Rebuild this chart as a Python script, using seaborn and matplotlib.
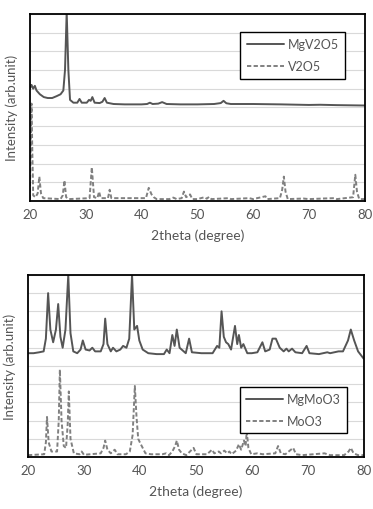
import numpy as np
import pandas as pd
import seaborn as sns
import matplotlib.pyplot as plt

# XRD patterns (2theta in degrees, relative intensity)
mgv2o5_x = [20.0, 20.3, 20.6, 20.9, 21.2, 21.8, 22.5, 23.2, 24.0, 24.8, 25.5, 26.0, 26.3, 26.6,
            26.9, 27.2, 27.8, 28.5, 28.9, 29.3, 30.2, 30.6, 30.9, 31.2, 31.6, 32.5, 33.0, 33.4,
            33.8, 35.0, 37.0, 40.0, 41.0, 41.5, 42.0, 43.0, 43.7, 44.5, 47.0, 50.0, 53.0, 54.2,
            54.7, 55.2, 56.0, 60.0, 65.0, 70.0, 72.0, 75.0, 80.0]
mgv2o5_y = [60, 62, 60, 61.5, 59, 57, 55.5, 55, 55, 56, 57, 59, 70, 101,
            70, 54, 52.5, 52.5, 54.5, 52.5, 52.5, 54, 53.5, 55.5, 52.5, 52.3, 53, 55,
            52.5, 51.8, 51.6, 51.6, 51.8, 52.5, 51.8, 52, 52.8, 51.8, 51.6, 51.6, 51.8, 52.3,
            53.5, 52.2, 51.8, 51.8, 51.6, 51.3, 51.4, 51.2, 51.0]

v2o5_x = [20.0, 20.15, 20.3, 20.45, 20.6, 21.0, 21.4, 21.7, 22.0, 22.4, 25.5, 25.9, 26.2, 26.5,
          27.0, 30.7, 31.1, 31.5, 32.1, 32.4, 32.7, 34.0, 34.3, 34.6, 40.8, 41.3, 41.8, 42.2,
          42.7, 45.0, 45.7, 46.3, 47.2, 47.6, 48.0, 48.7, 49.1, 50.0, 51.3, 51.7, 52.1, 52.5,
          55.7, 56.0, 59.3, 60.0, 62.2, 62.5, 64.8, 65.2, 65.5, 65.8, 66.2, 69.0, 70.0, 72.5,
          74.6, 75.0, 77.9, 78.3, 78.6, 79.0, 80.0]
v2o5_y = [1, 30, 52, 25, 3, 2, 4, 13, 4, 1.5, 1, 3, 11, 2,
          1, 1.5, 18, 2, 1.5, 5, 1.5, 1.5, 6, 1.5, 1.5, 7, 3.5, 2,
          1, 1, 1.8, 1, 1.5, 5, 2, 3.5, 1, 1, 2, 1.2, 2.2, 1,
          1.5, 1, 1.5, 1, 2.5, 1, 1.5, 6, 13, 5, 1, 1.3, 1, 1.3,
          1.5, 1, 2, 14, 5, 1, 1]

mgmoo3_x = [20, 21, 22, 22.8, 23.2, 23.6, 24.0, 24.5, 25.0, 25.4, 25.8, 26.2, 26.7, 27.2, 27.6,
            28.1, 28.8, 29.4, 29.8, 30.3, 31, 31.5, 32, 33, 33.5, 33.8, 34.2, 34.8, 35.2, 35.8,
            36.5, 37.0, 37.6, 38.1, 38.6, 39.0, 39.5, 39.9, 40.5, 41.5, 43, 44.3, 44.8, 45.3,
            45.8, 46.2, 46.6, 47.1, 48.2, 48.8, 49.3, 51, 53, 53.8, 54.2, 54.6, 55.0, 55.4,
            55.8, 56.3, 57, 57.4, 57.7, 58.1, 58.5, 59.2, 60, 61, 61.9, 62.4, 63.2, 63.7, 64.3,
            65, 65.7, 66.2, 66.6, 67.2, 67.8, 69, 69.8, 70.3, 72, 73.5, 74, 75.5, 76.3, 77.2,
            77.7, 78.3, 79, 80]
mgmoo3_y = [57, 57, 57.5, 58, 65, 90, 70, 63, 70, 84, 66, 60, 70, 100, 68,
            58, 57, 59, 64, 59, 58.5, 60, 58, 58, 62, 76, 62, 58, 60, 58,
            59, 61, 60, 65, 100, 70, 72, 64, 59, 57, 56.5, 56.5, 59, 57,
            67, 61, 70, 60, 57, 65, 57.5, 57, 57, 61, 60, 80, 66, 63,
            62, 59, 72, 62, 67, 60, 62, 57, 57, 57.5, 63, 58, 59, 65, 65,
            60, 58, 59.5, 58, 59.5, 57.5, 57, 61, 57, 56.5, 57.5, 57, 58, 58, 64,
            70, 64, 58, 54]

moo3_x = [20, 22.9, 23.2, 23.4, 23.7, 24.2, 25.2, 25.5, 25.7, 26.0, 26.4, 26.8, 27.1, 27.3, 27.6,
          28.2, 29.2, 29.6, 30, 33, 33.5, 33.8, 34.2, 34.8, 35.5, 36, 37.5, 38.2, 38.7, 39.1,
          39.4, 39.7, 40.0, 40.5, 41, 42, 44, 44.7, 45.2, 45.8, 46.3, 46.6, 47.0, 47.5, 48.3,
          49.6, 50.1, 52, 52.9, 53.3, 54.1, 54.5, 55.1, 55.6, 56.0, 56.4, 57.2, 57.7, 58.1,
          58.6, 58.9, 59.1, 59.4, 59.9, 61, 62, 64.2, 64.7, 65.2, 66, 67.4, 67.9, 69, 73, 74,
          76.5, 77.3, 77.7, 78.2, 79, 80]
moo3_y = [1, 1.5, 8, 22, 8, 3, 3, 20, 48, 20, 6, 5, 18, 36, 10,
          2, 1.5, 3, 1.2, 2, 5, 9, 4, 2, 4, 1.5, 1.5, 3, 12, 39,
          22, 10, 8, 5, 2, 1.5, 1.5, 2, 1, 3, 6, 9, 4, 2, 1,
          5, 1.5, 1.5, 4, 2, 3, 2, 3.5, 2, 3, 1.5, 3.5, 7, 4,
          9, 6, 14, 5, 1.5, 2, 1.5, 2, 6, 2, 1.5, 5, 1.5, 1, 2, 1,
          1, 3, 5, 2, 1, 1]

xticks = [20, 30, 40, 50, 60, 70, 80]

sns.set_style("white")
plt.rcParams['font.family'] = ['Lato', 'DejaVu Sans']

fig = plt.figure(figsize=(3.73, 5.10), dpi=100)
ax1 = fig.add_axes([0.080, 0.604, 0.898, 0.367])
ax2 = fig.add_axes([0.075, 0.102, 0.900, 0.357])

solid_c = '#555555'
dash_c = '#808080'


def draw(ax, x1, y1, lab1, x2, y2, lab2, leg_anchor):
    d1 = pd.DataFrame({'x': x1, 'y': y1})
    d2 = pd.DataFrame({'x': x2, 'y': y2})
    sns.lineplot(data=d1, x='x', y='y', ax=ax, color=solid_c, lw=1.4, label=lab1)
    sns.lineplot(data=d2, x='x', y='y', ax=ax, color=dash_c, lw=1.4, label=lab2,
                 linestyle=(0, (2.2, 1.2)))
    ax.set_xlim(20, 80)
    ax.set_ylim(0, 100)
    ax.set_xticks(xticks)
    ax.set_yticks(np.arange(0, 101, 10))
    ax.set_yticklabels([])
    ax.grid(axis='y', color='#d9d9d9', lw=0.8)
    ax.tick_params(axis='x', length=0, labelsize=9.5, labelcolor='#555555', pad=5)
    ax.tick_params(axis='y', length=0)
    ax.set_xlabel('2theta (degree)', fontsize=10, color='#555555', labelpad=6)
    ax.set_ylabel('Intensity (arb.unit)', fontsize=9.5, color='#555555', labelpad=5)
    for s in ax.spines.values():
        s.set_color('black')
        s.set_linewidth(1.3)
    leg = ax.legend(loc='upper right', bbox_to_anchor=leg_anchor, fontsize=9,
                    frameon=True, fancybox=False, handlelength=3.0, handletextpad=0.3,
                    borderpad=0.5, labelspacing=0.8, labelcolor='#555555')
    leg.get_frame().set_edgecolor('black')
    leg.get_frame().set_linewidth(1.0)
    leg.get_frame().set_alpha(1)


draw(ax1, mgv2o5_x, mgv2o5_y, 'MgV2O5', v2o5_x, v2o5_y, 'V2O5', (0.96, 0.936))
draw(ax2, mgmoo3_x, mgmoo3_y, 'MgMoO3', moo3_x, moo3_y, 'MoO3', (0.97, 0.42))

fig.savefig('out.png', dpi=100)
